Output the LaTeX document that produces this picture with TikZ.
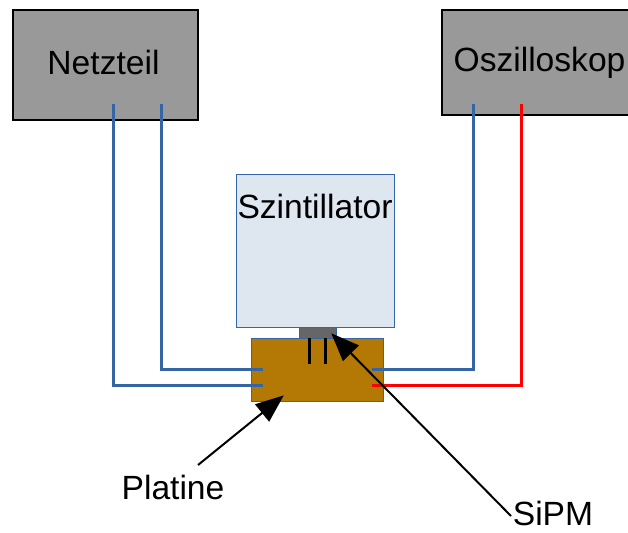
\documentclass[tikz,border=0pt]{standalone}
\usepackage{fontspec}
\setmainfont{Liberation Sans}
\usetikzlibrary{arrows.meta}
\definecolor{boxgrey}{HTML}{999999}
\definecolor{wireblue}{HTML}{3465A4}
\definecolor{scint}{HTML}{DEE6EF}
\definecolor{sipmgrey}{HTML}{666666}
\definecolor{pcb}{HTML}{B47804}
\tikzset{
  devicebox/.style={draw=black,line width=1.5pt,fill=boxgrey,inner sep=0pt,outer sep=0pt},
  partbox/.style={draw=wireblue,line width=0.8pt,inner sep=0pt,outer sep=0pt},
  label/.style={inner sep=0pt,font=\fontsize{33.6}{36}\selectfont,text=black},
  bluewire/.style={draw=wireblue,line width=3pt},
  redwire/.style={draw=red,line width=3pt},
  pin/.style={draw=black,line width=3pt},
  pointer/.style={draw=black,line width=2pt,-{Triangle[length=28pt,width=22pt]},shorten >=-1pt}
}
\begin{document}
\begin{tikzpicture}[x=1pt,y=-1pt]
\useasboundingbox (0,0) rectangle (628,532);
\clip (0,0) rectangle (628,532);
\node[devicebox,minimum width=185pt,minimum height=110pt] (netz) at (105.5,65) {};
\node[devicebox,minimum width=200pt,minimum height=105pt] (osz) at (542,62.5) {};
\node[partbox,fill=scint,minimum width=158pt,minimum height=153pt] (szint) at (315,250.5) {};
\node[partbox,fill=pcb,minimum width=132pt,minimum height=63pt] (plat) at (317.5,369.5) {};
\node[partbox,fill=sipmgrey,minimum width=37pt,minimum height=11pt] (sipm) at (317.5,332.5) {};
% wire ends
\coordinate (n1) at (113.8,104);
\coordinate (n2) at (161,104);
\coordinate (o1) at (473.8,104);
\coordinate (o2) at (521,104);
\coordinate (p1) at (263,385);
\coordinate (p2) at (263,369);
\coordinate (p3) at (372,369);
\coordinate (p4) at (372,385);
\coordinate (pa1) at (309.5,338);
\coordinate (pb1) at (309.5,364);
\coordinate (pa2) at (325.5,338);
\coordinate (pb2) at (325.5,364);
\draw[bluewire] (n1) |- (p1);
\draw[bluewire] (n2) |- (p2);
\draw[bluewire] (o1) |- (p3);
\draw[redwire] (o2) |- (p4);
\draw[pin] (pa1) -- (pb1);
\draw[pin] (pa2) -- (pb2);
% labels
\node[label] (tn) at (103.5,62.5) {Netzteil};
\node[label] (to) at (539.5,62.5) {Oszilloskop};
\node[label] (ts) at (315,206.5) {Szintillator};
\node[label] (tp) at (173,487.5) {Platine};
\node[label] (tq) at (553,513.5) {SiPM};
% pointers
\coordinate (a1s) at (198,465);
\coordinate (a1e) at (283,396);
\coordinate (a2s) at (511,516);
\coordinate (a2e) at (332,334);
\draw[pointer] (a1s) -- (a1e);
\draw[pointer] (a2s) -- (a2e);
\end{tikzpicture}
\end{document}
